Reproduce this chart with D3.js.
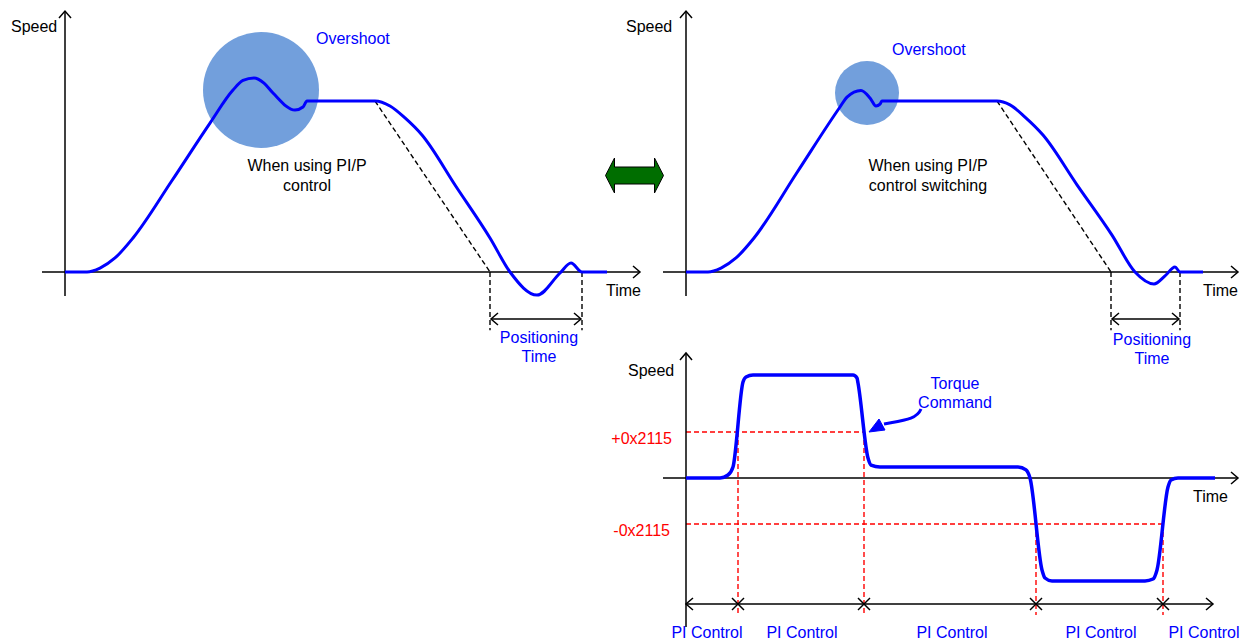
<!DOCTYPE html>
<html><head><meta charset="utf-8">
<script src="https://cdn.jsdelivr.net/npm/d3@7"></script>
<style>
body{margin:0;background:#fff}
svg{display:block}
text{font-family:"Liberation Sans",Arial,sans-serif;font-size:16px}
</style>
</head><body>
<svg id="c" width="1249" height="643"></svg>
<script>
// ---- Data ----
// Panel 1: PI/P control (time units, speed normalised to 1 = steady speed)
const p1Time  = [0, 2.2, 3.5, 5.0, 6.8, 10.7, 14.5, 16.8, 17.8, 18.9, 19.9, 20.8, 23.0, 23.8, 24.2, 31.0, 32.5, 34.0, 35.7, 39.1, 42.5, 44.5, 47.2, 49.5, 50.6, 51.7, 54.2];
const p1Speed = [0, 0, 0.023, 0.082, 0.199, 0.535, 0.871, 1.064, 1.120, 1.135, 1.105, 1.047, 0.947, 0.965, 1.0, 1.0, 0.971, 0.901, 0.801, 0.50, 0.199, 0, -0.135, -0.006, 0.053, 0, 0];
const p1Ideal = [[31.0, 1.0], [42.5, 0]];
const p1Positioning = [42.5, 51.7];
// Panel 2: PI/P control switching
const p2Time  = [0, 2.2, 3.5, 5.0, 6.8, 11.1, 15.4, 16.1, 17.5, 18.4, 19.0, 19.4, 19.6, 31.1, 32.4, 33.9, 35.7, 39.1, 42.6, 44.9, 46.8, 47.9, 48.9, 49.4, 51.7];
const p2Speed = [0, 0, 0.023, 0.082, 0.199, 0.582, 0.965, 1.023, 1.062, 1.018, 0.971, 0.982, 1.0, 1.0, 0.977, 0.906, 0.801, 0.51, 0.216, 0, -0.070, -0.023, 0.029, 0, 0];
const p2Ideal = [[31.1, 1.0], [42.5, 0]];
const p2Positioning = [42.5, 49.4];
// Panel 3: torque command with switching thresholds
const tqTime  = [0, 3.4, 4.2, 4.7, 5.7, 6.0, 6.7, 16.7, 17.1, 17.2, 18.2, 18.5, 19.4, 33.2, 34.0, 34.4, 35.6, 35.9, 36.6, 45.9, 46.7, 47.1, 48.2, 48.5, 49.2, 52.9];
const tqSpeed = [0, 0, 0.029, 0.107, 0.932, 0.981, 1.0, 1.0, 0.971, 0.922, 0.194, 0.126, 0.107, 0.107, 0.078, 0, -0.893, -0.971, -1.0, -1.0, -0.981, -0.893, -0.087, -0.019, 0, 0];
const thresholdValues = [0.447, -0.447];
const thresholdLabels = ["+0x2115", "-0x2115"];
const switchTimes = [5.2, 17.8, 35.0, 47.7];
const switchThreshold = [0.447, 0.447, -0.447, -0.447];
const modeLabels = ["PI Control", "PI Control", "PI Control", "PI Control", "PI Control"];
const modeLabelTimes = [2.1, 11.6, 26.6, 41.5, 51.8];

// ---- Drawing ----
const svg = d3.select("#c");
const BLUE = "#0000ff", RED = "#ff0000";

const x1 = d3.scaleLinear().domain([0, 57.5]).range([65, 640]);
const y1 = d3.scaleLinear().domain([0, 1]).range([272, 101]);
const x2 = d3.scaleLinear().domain([0, 55.2]).range([686, 1238]);
const y2 = d3.scaleLinear().domain([0, 1]).range([272, 101]);
const x3 = d3.scaleLinear().domain([0, 55.2]).range([686, 1238]);
const y3 = d3.scaleLinear().domain([0, 1]).range([478, 375]);

function seg(g, a, b, stroke, w, dash) {
  const l = g.append("line").attr("x1", a[0]).attr("y1", a[1]).attr("x2", b[0]).attr("y2", b[1])
    .attr("stroke", stroke).attr("stroke-width", w);
  if (dash) l.attr("stroke-dasharray", dash);
  return l;
}
function head(g, x, y, dir) { // open arrowhead
  const L = 7, W = 6;
  let pts;
  if (dir === "r") pts = [[x - L, y - W], [x, y], [x - L, y + W]];
  if (dir === "l") pts = [[x + L, y - W], [x, y], [x + L, y + W]];
  if (dir === "u") pts = [[x - W, y + L], [x, y], [x + W, y + L]];
  g.append("polyline").attr("points", pts.map(p => p.join(",")).join(" "))
    .attr("fill", "none").attr("stroke", "#000").attr("stroke-width", 1.5);
}
function txt(g, x, y, s, color, anchor) {
  return g.append("text").attr("x", x).attr("y", y).attr("fill", color || "#000")
    .attr("text-anchor", anchor || "start").text(s);
}
function axes(g, xs, ys, tMin, tMax, vMin, vMax) {
  seg(g, [xs(tMin), ys(0)], [xs(tMax), ys(0)], "#000", 1.5);
  head(g, xs(tMax), ys(0), "r");
  seg(g, [xs(0), ys(vMin)], [xs(0), ys(vMax)], "#000", 1.5);
  head(g, xs(0), ys(vMax), "u");
}

function speedPanel(xs, ys, times, speeds, ideal, pos, circ, texts, tMax) {
  const g = svg.append("g");
  g.append("circle").attr("cx", circ[0]).attr("cy", circ[1]).attr("r", circ[2]).attr("fill", "#729fdc");
  axes(g, xs, ys, -2.3, tMax, -0.14, 1.526);
  seg(g, [xs(ideal[0][0]), ys(ideal[0][1])], [xs(ideal[1][0]), ys(ideal[1][1])], "#000", 1.4, "5,3");
  pos.forEach(t => seg(g, [xs(t), ys(0)], [xs(t), ys(-0.34)], "#000", 1.4, "5,3"));
  const ay = ys(-0.275);
  seg(g, [xs(pos[0]) + 1, ay], [xs(pos[1]) - 1, ay], "#000", 1.5);
  head(g, xs(pos[0]) + 1, ay, "l");
  head(g, xs(pos[1]) - 1, ay, "r");
  const line = d3.line().x((d, i) => xs(times[i])).y((d, i) => ys(speeds[i])).curve(d3.curveMonotoneX);
  g.append("path").attr("d", line(times)).attr("fill", "none").attr("stroke", BLUE).attr("stroke-width", 3)
    .attr("stroke-linejoin", "round");
  texts.forEach(t => txt(g, t[0], t[1], t[2], t[3], t[4]));
  return g;
}

speedPanel(x1, y1, p1Time, p1Speed, p1Ideal, p1Positioning, [261, 90, 58], [
  [11, 32, "Speed", "#000"],
  [606, 296, "Time", "#000"],
  [316, 44, "Overshoot", BLUE],
  [307, 171, "When using PI/P", "#000", "middle"],
  [307, 191, "control", "#000", "middle"],
  [539, 343, "Positioning", BLUE, "middle"],
  [539, 362, "Time", BLUE, "middle"]
], 57.5);

speedPanel(x2, y2, p2Time, p2Speed, p2Ideal, p2Positioning, [867, 93, 32], [
  [626, 32, "Speed", "#000"],
  [1203, 296, "Time", "#000"],
  [892, 55, "Overshoot", BLUE],
  [928, 171, "When using PI/P", "#000", "middle"],
  [928, 191, "control switching", "#000", "middle"],
  [1152, 345, "Positioning", BLUE, "middle"],
  [1152, 364, "Time", BLUE, "middle"]
], 55.2);

// green double arrow
svg.append("polygon")
  .attr("points", [[605.5,175.5],[614.5,158],[614.5,167],[654.5,167],[654.5,158],[663.5,175.5],[654.5,193],[654.5,184],[614.5,184],[614.5,193]].map(p=>p.join(",")).join(" "))
  .attr("fill", "#006e00").attr("stroke", "#000").attr("stroke-width", 1);

// ---- Panel 3 ----
const g3 = svg.append("g");
thresholdValues.forEach((v, i) => {
  const tEnd = i === 0 ? switchTimes[1] : switchTimes[3];
  seg(g3, [x3(0), y3(v)], [x3(tEnd), y3(v)], RED, 1.4, "5,3");
  txt(g3, i === 0 ? 672 : 670, i === 0 ? 444 : 536, thresholdLabels[i], RED, "end");
});
switchTimes.forEach((t, i) => {
  seg(g3, [x3(t), y3(switchThreshold[i])], [x3(t), y3(-1.33)], RED, 1.4, "5,3");
});
axes(g3, x3, y3, -2.3, 55.2, -1.447, 1.214);
const by = y3(-1.223);
seg(g3, [x3(0), by], [x3(52.7), by], "#000", 1.5);
head(g3, x3(0), by, "l");
head(g3, x3(52.7), by, "r");
switchTimes.forEach(t => {
  const cx = x3(t);
  seg(g3, [cx - 6, by - 6], [cx + 6, by + 6], "#000", 1.5);
  seg(g3, [cx - 6, by + 6], [cx + 6, by - 6], "#000", 1.5);
});
modeLabels.forEach((s, i) => txt(g3, x3(modeLabelTimes[i]), 638, s, BLUE, "middle"));
const tqLine = d3.line().x((d, i) => x3(tqTime[i])).y((d, i) => y3(tqSpeed[i])).curve(d3.curveMonotoneX);
g3.append("path").attr("d", tqLine(tqTime)).attr("fill", "none").attr("stroke", BLUE).attr("stroke-width", 3.5)
  .attr("stroke-linejoin", "round");
txt(g3, 628, 376, "Speed", "#000");
txt(g3, 1193, 502, "Time", "#000");
txt(g3, 955, 389, "Torque", BLUE, "middle");
txt(g3, 955, 408, "Command", BLUE, "middle");
g3.append("path").attr("d", "M921,409 C917,419 905,420 884,424").attr("fill", "none").attr("stroke", BLUE).attr("stroke-width", 3);
g3.append("polygon").attr("points", "869,432 885,430 879,419").attr("fill", BLUE).attr("stroke", BLUE).attr("stroke-width", 1);
</script>
</body></html>
